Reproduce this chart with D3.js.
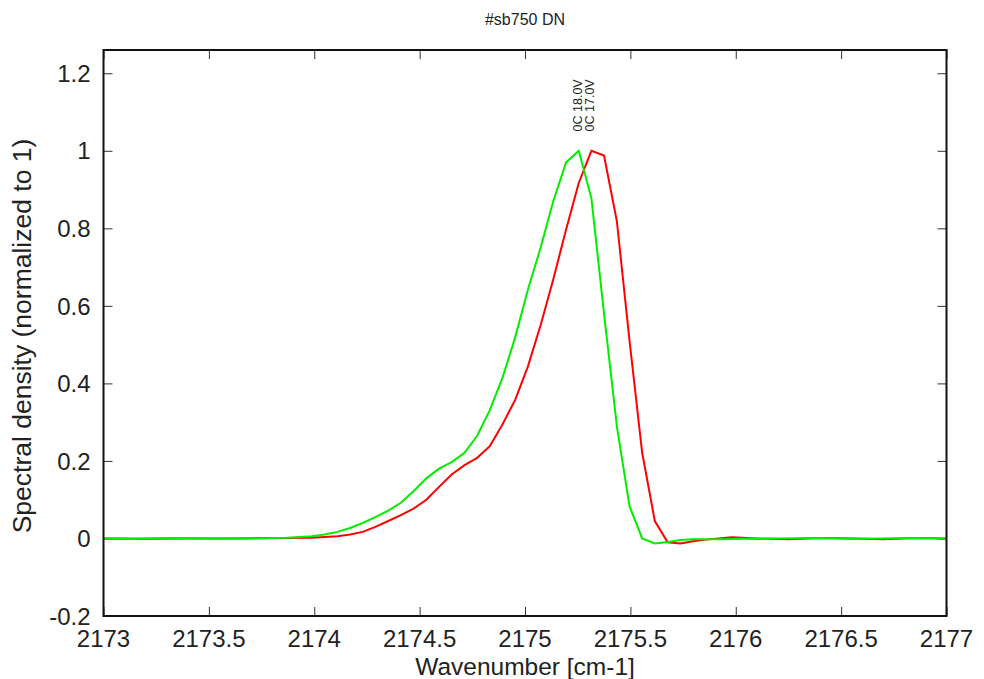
<!DOCTYPE html>
<html>
<head>
<meta charset="utf-8">
<script src="https://cdn.jsdelivr.net/npm/d3@7"></script>
<style>
  html, body { margin: 0; padding: 0; background: #fff; }
  svg { display: block; font-family: "Liberation Sans", Arial, sans-serif; }
</style>
</head>
<body>
<svg id="chart" width="984" height="679"></svg>
<script>
// ---- data ----
const title = "#sb750 DN";
const xLabel = "Wavenumber [cm-1]";
const yLabel = "Spectral density (normalized to 1)";
const xTicks = [2173, 2173.5, 2174, 2174.5, 2175, 2175.5, 2176, 2176.5, 2177];
const yTicks = [-0.2, 0, 0.2, 0.4, 0.6, 0.8, 1, 1.2];
const yTickLabels = ["-0.2", "0", "0.2", "0.4", "0.6", "0.8", "1", "1.2"];
const seriesNames = ["0C 18.0V", "0C 17.0V"];

const greenX = [2173.00, 2173.15, 2173.33, 2173.50, 2173.70, 2173.87, 2173.989, 2174.049, 2174.110, 2174.170,
  2174.230, 2174.290, 2174.351, 2174.411, 2174.471, 2174.532, 2174.592, 2174.652, 2174.713, 2174.773,
  2174.833, 2174.893, 2174.954, 2175.014, 2175.074, 2175.134, 2175.195, 2175.255, 2175.315, 2175.375,
  2175.436, 2175.496, 2175.556, 2175.616, 2175.677, 2175.737, 2175.797, 2175.90, 2176.05, 2176.20,
  2176.40, 2176.55, 2176.70, 2176.85, 2177.00];
const greenY = [0.000, -0.001, 0.001, 0.000, 0.000, 0.002, 0.006, 0.010, 0.017, 0.027,
  0.040, 0.055, 0.072, 0.092, 0.122, 0.155, 0.180, 0.197, 0.221, 0.265,
  0.331, 0.414, 0.520, 0.642, 0.750, 0.870, 0.970, 1.000, 0.878, 0.580,
  0.289, 0.083, 0.000, -0.013, -0.009, -0.004, -0.002, -0.002, -0.001, 0.000,
  0.001, -0.001, 0.000, 0.001, 0.000];

const redX = [2173.00, 2173.20, 2173.40, 2173.60, 2173.80, 2173.989, 2174.049, 2174.110, 2174.170, 2174.230,
  2174.290, 2174.351, 2174.411, 2174.471, 2174.532, 2174.592, 2174.652, 2174.713, 2174.773, 2174.833,
  2174.893, 2174.954, 2175.014, 2175.074, 2175.134, 2175.195, 2175.255, 2175.315, 2175.375, 2175.436,
  2175.496, 2175.556, 2175.616, 2175.677, 2175.737, 2175.797, 2175.86, 2175.98, 2176.10, 2176.25,
  2176.40, 2176.55, 2176.70, 2176.85, 2177.00];
const redY = [0.000, -0.001, 0.000, 0.000, 0.001, 0.002, 0.004, 0.006, 0.010, 0.017,
  0.030, 0.045, 0.060, 0.077, 0.100, 0.133, 0.165, 0.189, 0.208, 0.238,
  0.294, 0.358, 0.444, 0.550, 0.668, 0.797, 0.917, 1.000, 0.988, 0.818,
  0.510, 0.221, 0.045, -0.010, -0.013, -0.007, -0.003, 0.003, 0.000, -0.002,
  0.001, 0.000, -0.002, 0.001, 0.000];

// ---- layout ----
const svg = d3.select("#chart");
const L = 103.5, R = 946.5, T = 50, B = 616;
const x = d3.scaleLinear().domain([2173, 2177]).range([L, R]);
const y = d3.scaleLinear().domain([-0.2, 1.26]).range([B, T]);
const tickLen = 9;

svg.append("defs").append("clipPath").attr("id", "clip")
  .append("rect").attr("x", L).attr("y", T).attr("width", R - L).attr("height", B - T);

// axes (ticks inward)
const axB = svg.append("g").attr("transform", `translate(0,${B})`)
  .call(d3.axisTop(x).tickValues(xTicks).tickSize(tickLen).tickFormat(""));
const axT = svg.append("g").attr("transform", `translate(0,${T})`)
  .call(d3.axisBottom(x).tickValues(xTicks).tickSize(tickLen).tickFormat(""));
const axL = svg.append("g").attr("transform", `translate(${L},0)`)
  .call(d3.axisRight(y).tickValues(yTicks).tickSize(tickLen).tickFormat(""));
const axR = svg.append("g").attr("transform", `translate(${R},0)`)
  .call(d3.axisLeft(y).tickValues(yTicks).tickSize(tickLen).tickFormat(""));
[axB, axT, axL, axR].forEach(g => {
  g.select(".domain").remove();
  g.selectAll(".tick line").attr("stroke", "#333").attr("stroke-width", 1);
});

// tick labels
svg.append("g").selectAll("text").data(xTicks).join("text")
  .attr("x", d => x(d)).attr("y", B + 31)
  .attr("text-anchor", "middle").attr("font-size", 24).attr("fill", "#222")
  .text(d => d3.format("")(d));
svg.append("g").selectAll("text").data(yTicks).join("text")
  .attr("x", L - 13).attr("y", d => y(d)).attr("dy", "0.36em")
  .attr("text-anchor", "end").attr("font-size", 24).attr("fill", "#222")
  .text((d, i) => yTickLabels[i]);

// lines
const line = d3.line().x(d => x(d[0])).y(d => y(d[1]));
const plot = svg.append("g").attr("clip-path", "url(#clip)");
plot.append("path").datum(redX.map((v, i) => [v, redY[i]]))
  .attr("d", line).attr("fill", "none").attr("stroke", "#ff0000").attr("stroke-width", 2);
plot.append("path").datum(greenX.map((v, i) => [v, greenY[i]]))
  .attr("d", line).attr("fill", "none").attr("stroke", "#00ee00").attr("stroke-width", 2);

// frame
svg.append("rect").attr("x", L).attr("y", T).attr("width", R - L).attr("height", B - T)
  .attr("fill", "none").attr("stroke", "#111").attr("stroke-width", 2);

// peak labels
const peaks = [
  { name: seriesNames[0], xv: greenX[greenY.indexOf(d3.max(greenY))] },
  { name: seriesNames[1], xv: redX[redY.indexOf(d3.max(redY))] }
];
svg.append("g").selectAll("text").data(peaks).join("text")
  .attr("transform", d => `translate(${x(d.xv) + 3},${y(1.05)}) rotate(-90)`)
  .attr("font-size", 12.5).attr("fill", "#222").text(d => d.name);

// title and axis labels
svg.append("text").attr("x", (L + R) / 2).attr("y", 25).attr("text-anchor", "middle")
  .attr("font-size", 16).attr("fill", "#222").text(title);
svg.append("text").attr("x", (L + R) / 2).attr("y", 675).attr("text-anchor", "middle")
  .attr("font-size", 24.5).attr("fill", "#222").text(xLabel);
svg.append("text").attr("transform", `translate(31,${(T + B) / 2 + 3}) rotate(-90)`)
  .attr("text-anchor", "middle").attr("font-size", 26.5).attr("fill", "#222").text(yLabel);
</script>
</body>
</html>
